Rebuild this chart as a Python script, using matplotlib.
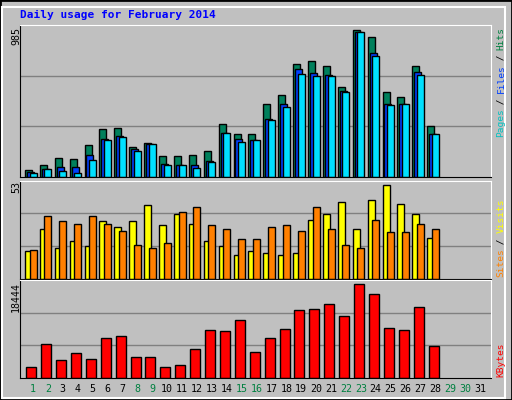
import matplotlib
matplotlib.use('Agg')
import matplotlib.pyplot as plt
from matplotlib.patches import Rectangle
import numpy as np

plt.rcParams['font.family'] = 'DejaVu Sans Mono'

DAYS = np.arange(1, 29)
HITS = [49, 82, 129, 123, 216, 323, 330, 203, 229, 143, 143, 149, 176, 357,
        290, 290, 490, 550, 758, 778, 738, 604, 985, 938, 570, 537, 744, 343]
FILES = [33, 56, 69, 69, 149, 256, 276, 189, 223, 89, 82, 82, 109, 296,
         256, 250, 390, 490, 724, 697, 684, 577, 971, 831, 490, 490, 704, 290]
PAGES = [29, 56, 42, 29, 116, 250, 270, 176, 223, 82, 82, 62, 102, 296,
         236, 250, 383, 470, 691, 677, 677, 570, 971, 811, 483, 490, 684, 290]
VISITS = [15.6, 28.2, 17.3, 21.3, 18.4, 32.3, 29.4, 32.3, 41.5, 30.5, 36.3, 31.1, 21.3, 18.4,
          13.2, 15.6, 14.4, 13.2, 14.4, 33.4, 36.3, 43.2, 28.2, 44.4, 53, 42, 36.3, 23]
SITES = [16.1, 35.1, 32.3, 31.1, 35.1, 31.1, 27.1, 19, 17.3, 20.2, 37.4, 40.3, 30.5, 28.2,
         22.5, 22.5, 29.4, 30.5, 27.1, 40.3, 28.2, 19, 17.3, 33.4, 26.5, 26.5, 31.1, 28.2]
KBYTES = [2087, 6530, 3500, 4914, 3702, 7741, 8145, 4106, 4106, 2087, 2491, 5722, 9357, 9155,
          11376, 5116, 7741, 9559, 13396, 13598, 14607, 12184, 18444, 16425, 9761, 9357, 14001, 6126]
WEEKEND = [1, 2, 8, 9, 15, 16, 22, 23, 29, 30]

W, H = 512, 400
BG = '#C0C0C0'
fig = plt.figure(figsize=(W / 100, H / 100), dpi=100, facecolor=BG)

# outer 3D frame
fig.patches.append(Rectangle((0, 0), 1, 1, transform=fig.transFigure, fill=False,
                             edgecolor='black', linewidth=2))
fig.patches.append(Rectangle((2 / W, 2 / H), 1 - 9 / W, 1 - 9 / H, transform=fig.transFigure,
                             fill=False, edgecolor='white', linewidth=1.5))
fig.patches.append(Rectangle((3 / W, 3 / H), 1 - 6 / W, 1 - 6 / H, transform=fig.transFigure,
                             fill=False, edgecolor='#808080', linewidth=0))


def make_ax(top, bottom):
    ax = fig.add_axes([20 / W, 1 - bottom / H, 471 / W, (bottom - top) / H])
    ax.set_facecolor(BG)
    ax.set_xlim(0.13, 31.74)
    ax.set_xticks([])
    ax.set_yticks([])
    for s in ax.spines.values():
        s.set_color('black')
    ax.spines['right'].set_color('white')
    ax.spines['top'].set_color('white')
    return ax


def grid(ax, top):
    for f in (1 / 3, 2 / 3):
        ax.axhline(top * f, color='#808080', linewidth=1, zorder=0)


kw = dict(align='edge', edgecolor='black', linewidth=1)

ax1 = make_ax(25, 177)
top1 = 985 * 151.5 / 147
ax1.set_ylim(0, top1)
grid(ax1, top1)
ax1.bar(DAYS - 0.54, HITS, 0.47, color='#00805C', **kw)
ax1.bar(DAYS - 0.41, FILES, 0.47, color='#0040FF', **kw)
ax1.bar(DAYS - 0.23, PAGES, 0.47, color='#00E0FF', **kw)

ax2 = make_ax(180.5, 279)
top2 = 53 * 288 / 276
ax2.set_ylim(0, top2)
grid(ax2, top2)
ax2.bar(DAYS - 0.54, VISITS, 0.47, color='#FFFF00', **kw)
ax2.bar(DAYS - 0.23, SITES, 0.47, color='#FF8000', **kw)

ax3 = make_ax(280, 377.5)
top3 = 18444 * 286 / 274
ax3.set_ylim(0, top3)
grid(ax3, top3)
ax3.bar(DAYS - 0.45, KBYTES, 0.67, color='#FF0000', **kw)

fig.text(20 / W, 1 - 15 / H, 'Daily usage for February 2014', color='#0000FF',
         fontsize=8, fontweight='bold', va='center', ha='left')

for d in range(1, 32):
    x = 33 + (d - 1) * 14.9
    fig.text(x / W, 1 - 389 / H, str(d), ha='center', va='center', fontsize=7.2,
             color='#008040' if d in WEEKEND else 'black')

for txt, y in [('985', 27), ('53', 181), ('18444', 282)]:
    fig.text(16 / W, 1 - y / H, txt, rotation=90, ha='center', va='top', fontsize=7.2)

CH = 5.45


def side_label(parts, y_bottom):
    y = y_bottom
    for txt, col in parts:
        fig.text(501 / W, 1 - y / H, txt, rotation=90, ha='center', va='bottom',
                 fontsize=6.8, color=col)
        y -= len(txt) * CH


side_label([('Pages', '#00C0C0'), (' / ', 'black'), ('Files', '#0040FF'),
            (' / ', 'black'), ('Hits', '#008040')], 137)
side_label([('Sites', '#FF8000'), (' / ', 'black'), ('Visits', '#FFFF00')], 277)
side_label([('KBytes', '#FF0000')], 377)

fig.savefig('out.png', dpi=100, facecolor=BG)
